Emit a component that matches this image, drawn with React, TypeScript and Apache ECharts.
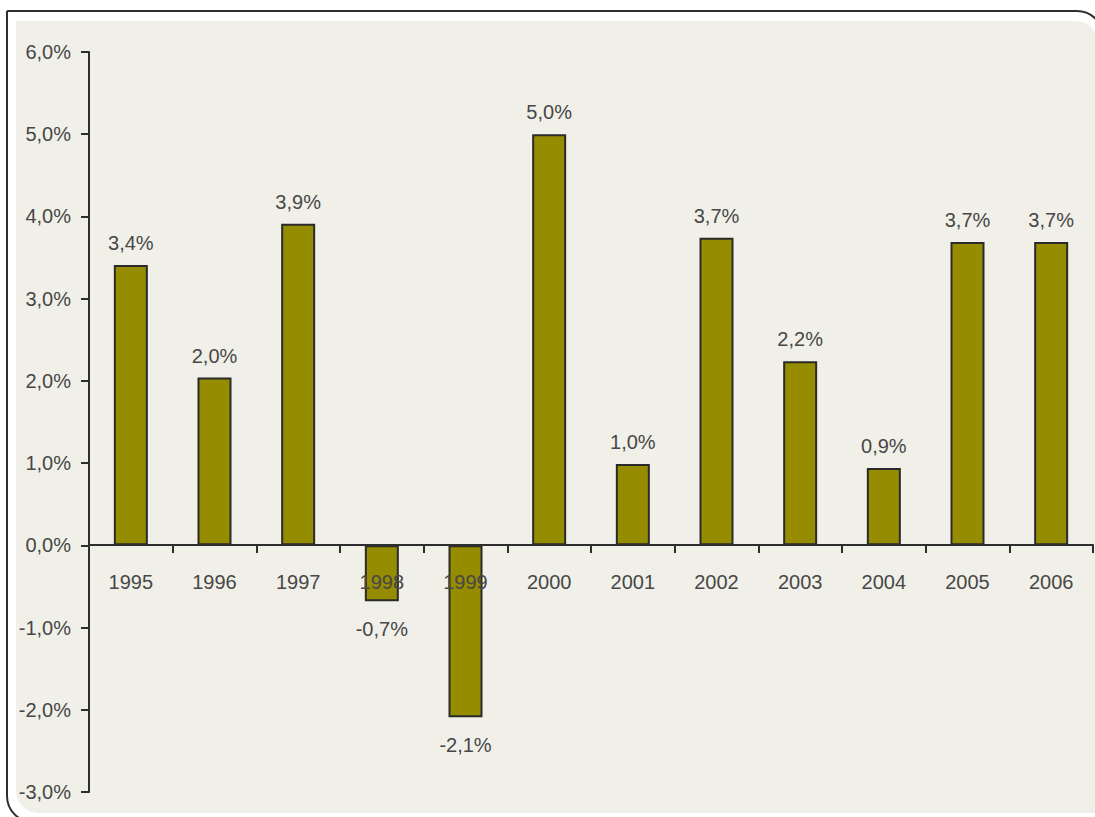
import React, { useEffect, useRef } from "react";
import * as echarts from "echarts";

const years = ["1995", "1996", "1997", "1998", "1999", "2000", "2001", "2002", "2003", "2004", "2005", "2006"];
const growth = [3.41, 2.04, 3.91, -0.68, -2.09, 5.0, 0.99, 3.74, 2.24, 0.94, 3.69, 3.69];
const yMin = -3;
const yMax = 6;
const yStep = 1;

const fmt = (v: number) => v.toFixed(1).replace(".", ",") + "%";

const FONT = "Liberation Sans";
const FONT_SIZE = 20;
const TEXT_COLOR = "#474747";

export default function App() {
  const ref = useRef<HTMLDivElement>(null);
  useEffect(() => {
    if (!ref.current) return;
    const chart = echarts.init(ref.current, null, { renderer: "svg" });
    chart.setOption({
      animation: false,
      backgroundColor: "#ffffff",
      graphic: [
        {
          type: "rect",
          z: -10,
          silent: true,
          shape: { x: 16, y: 21, width: 1082, height: 792, r: [0, 22, 0, 22] },
          style: { fill: "#f1f0e8", stroke: null },
        },
        {
          type: "rect",
          z: -9,
          silent: true,
          shape: { x: 7, y: 11, width: 1096, height: 811, r: [0, 26, 0, 26] },
          style: { fill: "none", stroke: "#2e2e2e", lineWidth: 2 },
        },
      ],
      grid: { left: 89, right: 2, top: 52, bottom: 25, containLabel: false, outerBoundsMode: "none" },
      xAxis: {
        type: "category",
        data: years,
        position: "bottom",
        offset: -247,
        z: 10,
        axisLine: { onZero: false, lineStyle: { color: "#2e2e2e", width: 2 } },
        axisTick: { show: true, length: 8, alignWithLabel: false, lineStyle: { color: "#2e2e2e", width: 2 } },
        axisLabel: { margin: 27, fontFamily: FONT, fontSize: FONT_SIZE, color: TEXT_COLOR },
        splitLine: { show: false },
      },
      yAxis: {
        type: "value",
        min: yMin,
        max: yMax,
        interval: yStep,
        axisLine: { show: true, lineStyle: { color: "#2e2e2e", width: 2 } },
        axisTick: { show: true, length: 8, lineStyle: { color: "#2e2e2e", width: 2 } },
        axisLabel: {
          margin: 18,
          fontFamily: FONT,
          fontSize: FONT_SIZE,
          color: TEXT_COLOR,
          formatter: (v: number) => fmt(v),
        },
        splitLine: { show: false },
      },
      series: [
        {
          type: "bar",
          barWidth: 34,
          data: growth.map((v) => ({
            value: v,
            label: {
              show: true,
              position: v >= 0 ? "top" : "bottom",
              distance: v >= 0 ? 12 : 18,
              formatter: fmt(v),
              fontFamily: FONT,
              fontSize: FONT_SIZE,
              color: TEXT_COLOR,
            },
          })),
          itemStyle: { color: "#968c00", borderColor: "#2a2a2a", borderWidth: 2 },
        },
      ],
    });
    return () => chart.dispose();
  }, []);
  return (
    <div
      ref={ref}
      style={{ position: "fixed", left: 0, top: 0, width: 1095, height: 817 }}
    />
  );
}
